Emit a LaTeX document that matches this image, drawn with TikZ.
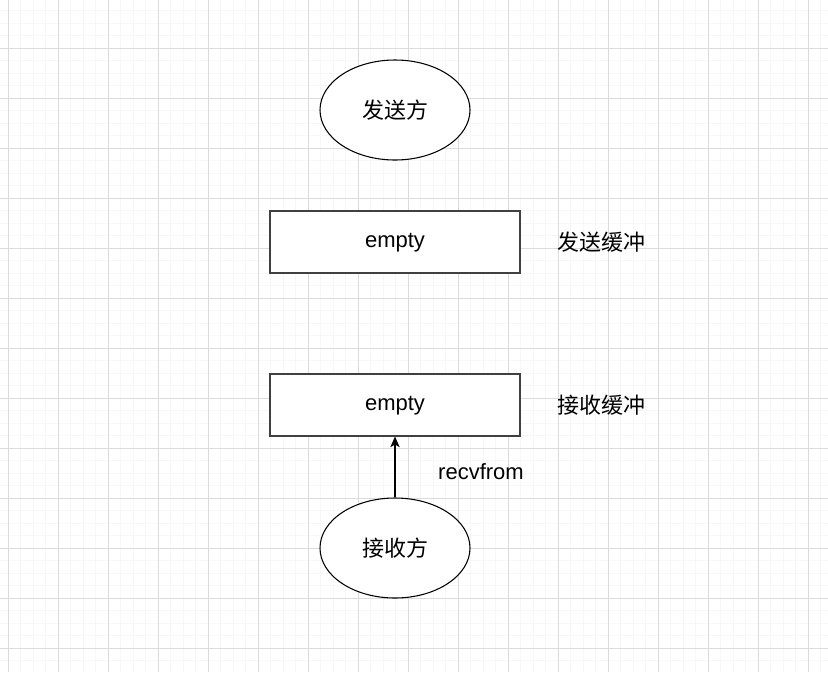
\documentclass[tikz,border=0pt]{standalone}
\usepackage{fontspec}
\setmainfont{Liberation Sans}
\newfontfamily\cjk{Noto Sans CJK SC}
\usetikzlibrary{shapes.geometric, arrows.meta, positioning}

\begin{document}
\begin{tikzpicture}[x=0.75pt, y=-0.75pt, line width=0.8pt, font=\fontsize{16.5}{19}\selectfont,
        proc/.style={draw, ellipse, fill=white, minimum width=150*0.75pt, minimum height=100*0.75pt, inner sep=0pt, font=\cjk\fontsize{16.5}{19}\selectfont},
        buf/.style={draw=black!75, rectangle, fill=white, minimum width=250*0.75pt, minimum height=62*0.75pt, inner sep=0pt, text height=1em, text depth=0.25em},
        lbl/.style={font=\cjk\fontsize{16.5}{19}\selectfont}]
        % background grid
        \useasboundingbox (0,0) rectangle (828,672);
        \fill[white] (0,0) rectangle (828,672);
        \foreach \i in {0,...,66} \draw[line width=0.75pt, black!3] ({-4.5+12.5*\i},0) -- ++(0,672);
        \foreach \i in {0,...,53} \draw[line width=0.75pt, black!3] (0,{10.5+12.5*\i}) -- ++(828,0);
        \foreach \i in {0,...,16} \draw[line width=0.75pt, black!14] ({8+50*\i},0) -- ++(0,672);
        \foreach \i in {0,...,13} \draw[line width=0.75pt, black!14] (0,{-2+50*\i}) -- ++(828,0);

        \node[proc] (sender) at (395,110) {发送方};
        \node[buf] (sendbuf) at (395,242) {empty};
        \node[lbl] (sendlbl) at (601,242) {发送缓冲};
        \node[buf] (recvbuf) at (395,405) {empty};
        \node[lbl] (recvlbl) at (601,405) {接收缓冲};
        \node[proc] (receiver) at (395,548) {接收方};

        \draw[-{Stealth[length=8pt, width=7pt, inset=2pt]}] (receiver) -- node[pos=0.42, right=32pt, inner sep=0pt] {recvfrom} (recvbuf);

    \end{tikzpicture}
\end{document}
